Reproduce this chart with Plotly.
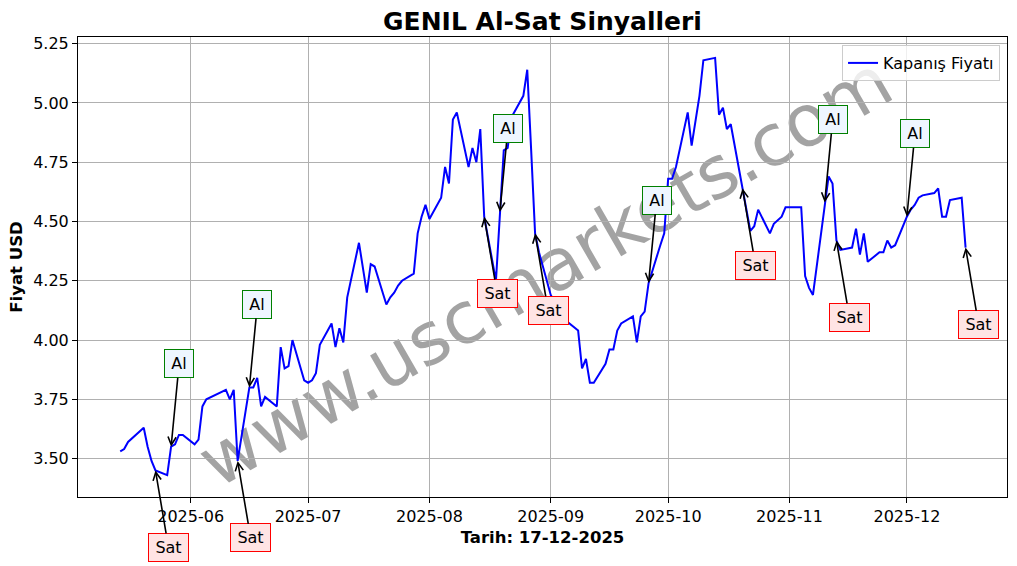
import plotly.graph_objects as go

dates = [
    "2025-05-14", "2025-05-15", "2025-05-16", "2025-05-20", "2025-05-21", "2025-05-22", "2025-05-23",
    "2025-05-26", "2025-05-27", "2025-05-28", "2025-05-29", "2025-05-30",
    "2025-06-02", "2025-06-03", "2025-06-04", "2025-06-05", "2025-06-10", "2025-06-11", "2025-06-12",
    "2025-06-13", "2025-06-16", "2025-06-17", "2025-06-18", "2025-06-19", "2025-06-20",
    "2025-06-23", "2025-06-24", "2025-06-25", "2025-06-26", "2025-06-27", "2025-06-30",
    "2025-07-01", "2025-07-02", "2025-07-03", "2025-07-04", "2025-07-07", "2025-07-08", "2025-07-09",
    "2025-07-10", "2025-07-11", "2025-07-14", "2025-07-16", "2025-07-17", "2025-07-18",
    "2025-07-21", "2025-07-22", "2025-07-23", "2025-07-24", "2025-07-25", "2025-07-28", "2025-07-29",
    "2025-07-30", "2025-07-31", "2025-08-01", "2025-08-04", "2025-08-05", "2025-08-06", "2025-08-07",
    "2025-08-08", "2025-08-11", "2025-08-12", "2025-08-13", "2025-08-14", "2025-08-15",
    "2025-08-18", "2025-08-19", "2025-08-20", "2025-08-21", "2025-08-22", "2025-08-25", "2025-08-26",
    "2025-08-27", "2025-08-28", "2025-08-29", "2025-09-01", "2025-09-02", "2025-09-03", "2025-09-04",
    "2025-09-05", "2025-09-08", "2025-09-09", "2025-09-10", "2025-09-11", "2025-09-12",
    "2025-09-15", "2025-09-16", "2025-09-17", "2025-09-18", "2025-09-19", "2025-09-22", "2025-09-23",
    "2025-09-24", "2025-09-25", "2025-09-26", "2025-09-29", "2025-09-30", "2025-10-01", "2025-10-02",
    "2025-10-03", "2025-10-06", "2025-10-07", "2025-10-08", "2025-10-09", "2025-10-10",
    "2025-10-13", "2025-10-14", "2025-10-15", "2025-10-16", "2025-10-17", "2025-10-20", "2025-10-21",
    "2025-10-22", "2025-10-23", "2025-10-24", "2025-10-27", "2025-10-28", "2025-10-30", "2025-10-31",
    "2025-11-03", "2025-11-04", "2025-11-05", "2025-11-06", "2025-11-07", "2025-11-10", "2025-11-11",
    "2025-11-12", "2025-11-13", "2025-11-14", "2025-11-17", "2025-11-18", "2025-11-19", "2025-11-20",
    "2025-11-21", "2025-11-24", "2025-11-25", "2025-11-26", "2025-11-27", "2025-11-28",
    "2025-12-01", "2025-12-02", "2025-12-03", "2025-12-04", "2025-12-05", "2025-12-08", "2025-12-09",
    "2025-12-10", "2025-12-11", "2025-12-12", "2025-12-15", "2025-12-16",
]

close = [
    3.53, 3.54, 3.57, 3.63, 3.55, 3.49, 3.45,
    3.43, 3.55, 3.56, 3.60, 3.60,
    3.56, 3.58, 3.72, 3.75, 3.79, 3.75, 3.79,
    3.49, 3.80, 3.80, 3.84, 3.72, 3.76,
    3.72, 3.97, 3.88, 3.89, 4.00, 3.83,
    3.82, 3.83, 3.86, 3.98, 4.07, 3.97, 4.05,
    3.99, 4.18, 4.41, 4.20, 4.32, 4.31,
    4.15, 4.18, 4.20, 4.23, 4.25, 4.28, 4.45,
    4.52, 4.57, 4.51, 4.60, 4.73, 4.66, 4.93,
    4.96, 4.73, 4.81, 4.75, 4.89, 4.52,
    4.25, 4.54, 4.80, 4.81, 4.94, 5.03, 5.14,
    4.80, 4.45, 4.37, 4.19, 4.16, 4.13, 4.10,
    4.08, 4.04, 3.88, 3.92, 3.82, 3.82,
    3.90, 3.96, 3.96, 4.04, 4.07, 4.10, 3.99,
    4.10, 4.12, 4.24, 4.40, 4.45, 4.68, 4.68,
    4.73, 4.96, 4.82, 4.93, 5.03, 5.18,
    5.19, 4.95, 4.98, 4.89, 4.91, 4.64, 4.55,
    4.46, 4.48, 4.55, 4.45, 4.49, 4.52, 4.56,
    4.56, 4.56, 4.27, 4.22, 4.19, 4.58, 4.69,
    4.66, 4.42, 4.38, 4.39, 4.47, 4.36, 4.45,
    4.33, 4.37, 4.37, 4.42, 4.39, 4.40,
    4.52, 4.55, 4.57, 4.60, 4.61, 4.62, 4.64,
    4.52, 4.52, 4.59, 4.60, 4.39,
]

buy_dates = ["2025-05-27", "2025-06-16", "2025-08-19", "2025-09-26", "2025-11-10", "2025-12-01"]
sell_dates = ["2025-05-23", "2025-06-13", "2025-08-15", "2025-08-28", "2025-10-20", "2025-11-13", "2025-12-16"]

title_text = "GENIL Al-Sat Sinyalleri"
x_label = "Tarih: 17-12-2025"
y_label = "Fiyat USD"
series_name = "Kapanış Fiyatı"
watermark = "www.uscmarkets.com"

price_of = dict(zip(dates, close))

FONT = "DejaVu Sans"

fig = go.Figure()
fig.add_trace(go.Scatter(
    x=dates, y=close, mode="lines", name=series_name,
    line=dict(color="#0000ff", width=2),
))

# watermark beneath the data
fig.add_shape(
    type="rect", xref="paper", yref="paper", x0=0, x1=1, y0=0, y1=1,
    line=dict(width=0), fillcolor="rgba(0,0,0,0)", layer="between",
    label=dict(text=watermark, textangle=-30, textposition="middle center",
               font=dict(family=FONT, size=72, color="rgba(128,128,128,0.72)")),
)

for d in buy_dates:
    fig.add_annotation(
        x=d, y=price_of[d], xref="x", yref="y", text="Al",
        showarrow=True, arrowhead=5, arrowsize=1, arrowwidth=1.6, arrowcolor="black",
        ax=8, ay=-83, standoff=0,
        font=dict(family=FONT, size=16, color="black"),
        bgcolor="#eef6ff", bordercolor="green", borderwidth=1, borderpad=3,
        width=22, height=21,
    )
for d in sell_dates:
    fig.add_annotation(
        x=d, y=price_of[d], xref="x", yref="y", text="Sat",
        showarrow=True, arrowhead=5, arrowsize=1, arrowwidth=1.6, arrowcolor="black",
        ax=13, ay=77, standoff=0,
        font=dict(family=FONT, size=16, color="black"),
        bgcolor="#ffe4e4", bordercolor="red", borderwidth=1, borderpad=3,
        width=33, height=21,
    )

axis_common = dict(
    showgrid=True, gridcolor="#b0b0b0", gridwidth=1,
    showline=True, linecolor="black", linewidth=1, mirror=True,
    ticks="outside", ticklen=5, tickcolor="black", tickwidth=1,
    tickfont=dict(family=FONT, size=16, color="black"),
    zeroline=False, automargin=False,
)

fig.update_layout(
    width=1017, height=566,
    margin=dict(l=78, r=10, t=37, b=69),
    paper_bgcolor="white", plot_bgcolor="white",
    font=dict(family=FONT, color="black"),
    title=dict(text="<b>" + title_text + "</b>", x=0.5, xref="paper", xanchor="center",
               y=1 - 21 / 566, yref="container", yanchor="middle",
               font=dict(family=FONT, size=25, color="black")),
    xaxis=dict(
        **axis_common,
        type="date", range=["2025-05-03 05:00", "2025-12-26 14:00"],
        dtick="M1", tick0="2025-06-01", tickformat="%Y-%m",
        title=dict(text="<b>" + x_label + "</b>", standoff=6,
                   font=dict(family=FONT, size=16.5, color="black")),
    ),
    yaxis=dict(
        **axis_common,
        range=[3.338, 5.278], dtick=0.25, tick0=3.5, tickformat=".2f",
        title=dict(text="<b>" + y_label + "</b>", standoff=6,
                   font=dict(family=FONT, size=16.5, color="black")),
    ),
    showlegend=True,
    legend=dict(
        x=0.9925, xanchor="right", y=0.9826, yanchor="top",
        bgcolor="rgba(255,255,255,0.8)", bordercolor="#cccccc", borderwidth=1,
        font=dict(family=FONT, size=16, color="black"),
    ),
)

fig.write_html("out.html", config={"displayModeBar": False},
               post_script="document.body.style.margin='0';")
